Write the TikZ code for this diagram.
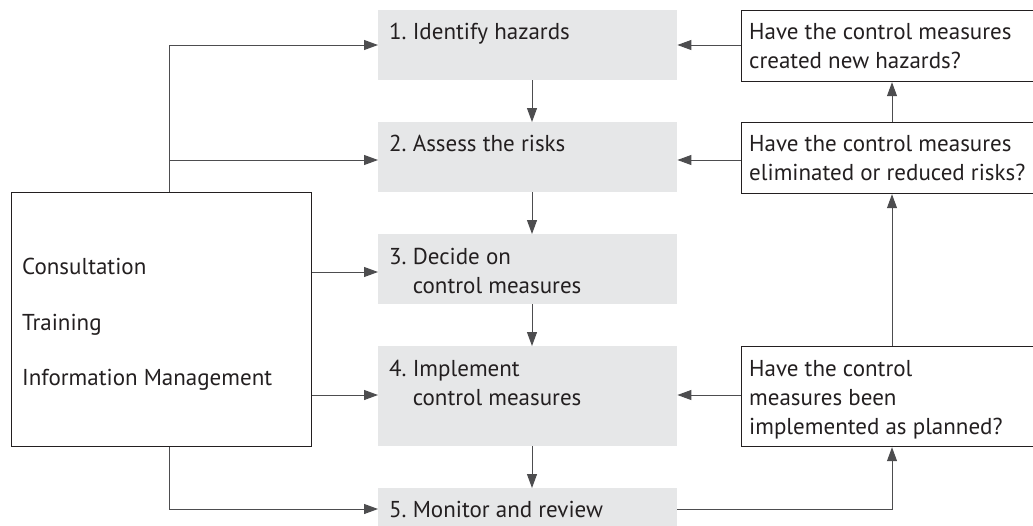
\documentclass[tikz,border=0pt]{standalone}
\usepackage{fontspec}
\setmainfont{PT Sans}
\usetikzlibrary{arrows.meta}
\definecolor{boxgray}{HTML}{E6E7E8}
\definecolor{ink}{HTML}{231F20}
\definecolor{linec}{HTML}{4D4D4F}
\begin{document}
\begin{tikzpicture}[x=1pt,y=-1pt,
  gbox/.style={fill=boxgray, draw=none, inner sep=0pt, anchor=north west},
  qbox/.style={fill=white, draw=ink, line width=1.2pt, inner sep=0pt, anchor=north west},
  txt/.style={inner sep=0pt, anchor=north west, align=left, text=ink,
    font=\fontsize{23}{29}\selectfont},
  conn/.style={draw=linec, line width=1pt, -{Triangle[length=14pt,width=10pt]}},
  plain/.style={draw=linec, line width=1pt}]
\useasboundingbox (0,0) rectangle (1033,525);
% gray step boxes
\node[gbox, minimum width=299pt, minimum height=70pt] (s1) at (378,10) {};
\node[gbox, minimum width=299pt, minimum height=70pt] (s2) at (378,122) {};
\node[gbox, minimum width=299pt, minimum height=70pt] (s3) at (378,234) {};
\node[gbox, minimum width=299pt, minimum height=100pt] (s4) at (378,346) {};
\node[gbox, minimum width=299pt, minimum height=45pt] (s5) at (378,488) {};
% question boxes
\node[qbox, minimum width=320pt, minimum height=71pt] (q1) at (741,10) {};
\node[qbox, minimum width=320pt, minimum height=71pt] (q2) at (741,122) {};
\node[qbox, minimum width=320pt, minimum height=100pt] (q3) at (741,346) {};
% left box
\node[qbox, minimum width=300pt, minimum height=254pt] (L) at (11,192) {};
% texts (strut height = 0.7*29 = 20.3)
\node[txt] (t1) at (389,18.7) {\begin{tabular}{@{}l@{\ }l@{}}1. & Identify hazards\end{tabular}};
\node[txt] (t2) at (389,130.7) {\begin{tabular}{@{}l@{\ }l@{}}2. & Assess the risks\end{tabular}};
\node[txt] (t3) at (389,243.7) {\begin{tabular}{@{}l@{\ }l@{}}3. & Decide on\\ & control measures\end{tabular}};
\node[txt] (t4) at (389,355.7) {\begin{tabular}{@{}l@{\ }l@{}}4. & Implement\\ & control measures\end{tabular}};
\node[txt] (t5) at (389,496.7) {\begin{tabular}{@{}l@{\ }l@{}}5. & Monitor and review\end{tabular}};
\node[txt] (u1) at (749,19) {\strut Have the control measures\\created new hazards?};
\node[txt] (u2) at (749,131) {\strut Have the control measures\\eliminated or reduced risks?};
\node[txt] (u3) at (749,355.7) {\strut Have the control\\measures been\\implemented as planned?};
\node[txt] (l1) at (22,253.7) {\strut Consultation};
\node[txt] (l2) at (22,309.7) {\strut Training};
\node[txt] (l3) at (22,364.7) {\strut Information Management};
% left connectors
\coordinate (lt) at (169,45);
\coordinate (lm) at (169,160);
\coordinate (lb) at (169,509);
\draw[plain] (L.north -| lt) -- (lt);
\draw[conn] (lt) -- (lt -| s1.west);
\draw[conn] (lm) -- (lm -| s2.west);
\draw[conn] (L.east |- 0,272) -- (s3.west |- 0,272);
\draw[conn] (L.east |- 0,395) -- (s4.west |- 0,395);
\draw[conn] (L.south -| lb) -- (lb) -- (lb -| s5.west);
% downward arrows
\draw[conn] (s1.south -| 532,0) -- (s2.north -| 532,0);
\draw[conn] (s2.south -| 532,0) -- (s3.north -| 532,0);
\draw[conn] (s3.south -| 532,0) -- (s4.north -| 532,0);
\draw[conn] (s4.south -| 532,0) -- (s5.north -| 532,0);
% right feedback
\draw[conn] (q1.west |- 0,45) -- (s1.east |- 0,45);
\draw[conn] (q2.west |- 0,160) -- (s2.east |- 0,160);
\draw[conn] (q3.west |- 0,395) -- (s4.east |- 0,395);
\coordinate (rb) at (892,509);
\draw[conn] (s5.east |- rb) -- (rb) -- (q3.south -| rb);
\draw[conn] (q3.north -| rb) -- (q2.south -| rb);
\draw[conn] (q2.north -| rb) -- (q1.south -| rb);
\end{tikzpicture}
\end{document}
